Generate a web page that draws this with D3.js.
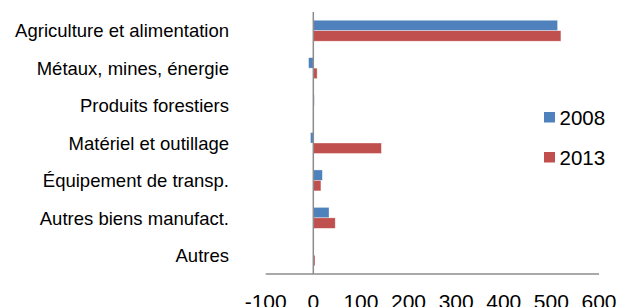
<!DOCTYPE html>
<html>
<head>
<meta charset="utf-8">
<script src="https://cdn.jsdelivr.net/npm/d3@7"></script>
<style>
  body { margin: 0; background: #fff; }
  svg { display: block; font-family: "Liberation Sans", Arial, sans-serif; }
</style>
</head>
<body>
<svg id="chart" width="626" height="307"></svg>
<script>
const categories = [
  "Agriculture et alimentation",
  "Métaux, mines, énergie",
  "Produits forestiers",
  "Matériel et outillage",
  "Équipement de transp.",
  "Autres biens manufact.",
  "Autres"
];
const values2008 = [513, -10, 2, -6, 19, 33, 0];
const values2013 = [520, 8, 0.5, 143, 16, 46, 3.5];
const seriesNames = ["2008", "2013"];
const xTicks = [-100, 0, 100, 200, 300, 400, 500, 600];

const colors = { "2008": "#4F81BD", "2013": "#C0504D" };

const svg = d3.select("#chart");

const x = d3.scaleLinear().domain([-100, 600]).range([265.7, 599]);
const y = d3.scaleBand()
  .domain(categories)
  .range([12, 274])
  .paddingInner(0.44)
  .paddingOuter(0.22);
const sub = d3.scaleBand().domain(seriesNames).range([0, y.bandwidth()]);

const rows = categories.map((c, i) => ({
  cat: c,
  vals: [
    { s: "2008", v: values2008[i] },
    { s: "2013", v: values2013[i] }
  ]
}));

// bars
const g = svg.append("g");
g.selectAll("g.cat")
  .data(rows)
  .join("g")
  .attr("class", "cat")
  .attr("transform", d => `translate(0,${y(d.cat)})`)
  .selectAll("rect")
  .data(d => d.vals)
  .join("rect")
  .attr("x", d => x(Math.min(0, d.v)))
  .attr("y", d => sub(d.s))
  .attr("width", d => Math.abs(x(d.v) - x(0)))
  .attr("height", sub.bandwidth())
  .attr("fill", d => colors[d.s])
  .attr("stroke", "rgba(255,255,255,0.6)")
  .attr("stroke-width", 0.6);

// vertical axis at zero
svg.append("line")
  .attr("x1", x(0)).attr("x2", x(0))
  .attr("y1", 12).attr("y2", 274)
  .attr("stroke", "#8c8c8c")
  .attr("stroke-width", 1.5);

// horizontal axis
svg.append("line")
  .attr("x1", x(-100)).attr("x2", x(600))
  .attr("y1", 274).attr("y2", 274)
  .attr("stroke", "#8c8c8c")
  .attr("stroke-width", 1.5);

// x tick labels (cut at the bottom edge, as in the original)
svg.append("g")
  .selectAll("text")
  .data(xTicks)
  .join("text")
  .attr("x", d => x(d))
  .attr("y", 308.5)
  .attr("text-anchor", "middle")
  .attr("font-size", 21)
  .attr("fill", "#000")
  .text(d => d);

// category labels
svg.append("g")
  .selectAll("text")
  .data(categories)
  .join("text")
  .attr("x", 229)
  .attr("y", d => y(d) + y.bandwidth() / 2)
  .attr("dy", "0.36em")
  .attr("text-anchor", "end")
  .attr("font-size", 18.5)
  .attr("fill", "#000")
  .text(d => d);

// legend
const legend = svg.append("g")
  .selectAll("g")
  .data(seriesNames)
  .join("g")
  .attr("transform", (d, i) => `translate(544,${112 + i * 40})`);
legend.append("rect")
  .attr("width", 11).attr("height", 10.5)
  .attr("fill", d => colors[d]);
legend.append("text")
  .attr("x", 15.5)
  .attr("y", 12.5)
  .attr("font-size", 20.5)
  .attr("fill", "#000")
  .text(d => d);
</script>
</body>
</html>
